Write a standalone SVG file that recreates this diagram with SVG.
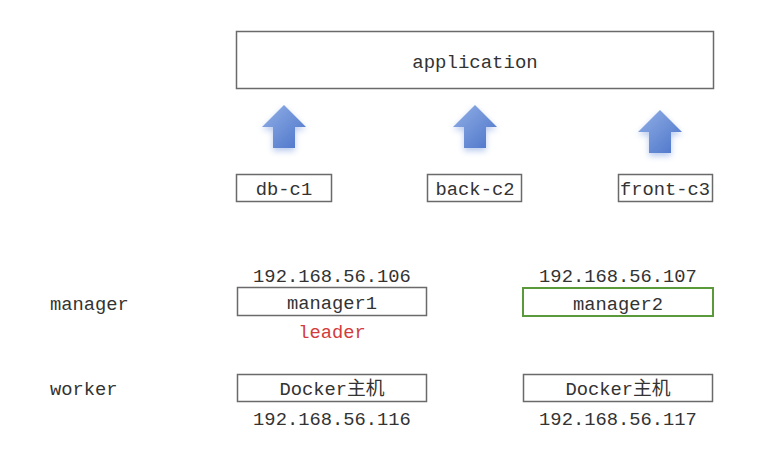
<svg xmlns="http://www.w3.org/2000/svg" width="769" height="458" viewBox="0 0 769 458">
<defs>
<style>
text{font-family:"Liberation Mono","Noto Sans CJK SC",monospace;font-size:18.8px;fill:#333;text-anchor:middle}
.lbl{text-anchor:start}
.box{fill:#fff;stroke:#6a6a6a;stroke-width:1.5}
.arrow{fill:url(#ag)}
.glow{fill:#7f9fe0;opacity:.55;filter:url(#blur)}
</style>
<linearGradient id="ag" x1="0" y1="0" x2="1" y2="1">
<stop offset="0" stop-color="#93b0e6"/>
<stop offset="1" stop-color="#4a73c9"/>
</linearGradient>
<filter id="blur" x="-50%" y="-50%" width="200%" height="200%"><feGaussianBlur stdDeviation="3"/></filter>
<path id="arr" d="M0,0 L22,22 L11,22 L11,43 L-11,43 L-11,22 L-22,22 Z"/>
</defs>
<g id="application">
<rect class="box" x="236.5" y="31.5" width="477" height="57"/>
<text x="475" y="68" style="font-size:19px">application</text>
</g>
<g id="connectors">
<use href="#arr" class="glow" transform="translate(284,108)"/>
<use href="#arr" class="arrow" transform="translate(284,105)"/>
<use href="#arr" class="glow" transform="translate(475,108)"/>
<use href="#arr" class="arrow" transform="translate(475,105)"/>
<use href="#arr" class="glow" transform="translate(660,113)"/>
<use href="#arr" class="arrow" transform="translate(660,110)"/>
</g>
<g id="db-c1">
<rect class="box" x="236.5" y="174.5" width="95" height="27"/>
<text x="284" y="195">db-c1</text>
</g>
<g id="back-c2">
<rect class="box" x="427.5" y="174.5" width="94" height="27"/>
<text x="475" y="195">back-c2</text>
</g>
<g id="front-c3">
<rect class="box" x="618.5" y="174.5" width="94" height="27"/>
<text x="665" y="195">front-c3</text>
</g>
<g id="manager-label"><text class="lbl" x="50" y="310">manager</text></g>
<g id="worker-label"><text class="lbl" x="50" y="395">worker</text></g>
<g id="manager1">
<text x="332" y="282">192.168.56.106</text>
<rect class="box" x="237.5" y="287.5" width="189" height="28"/>
<text x="332" y="309">manager1</text>
<text x="332" y="338" style="fill:#d23c3c">leader</text>
</g>
<g id="manager2">
<text x="618" y="282">192.168.56.107</text>
<rect x="523" y="288" width="190" height="28" fill="#fff" stroke="#5a9a3a" stroke-width="2"/>
<text x="618" y="310">manager2</text>
</g>
<g id="docker1">
<rect class="box" x="237.5" y="374.5" width="189" height="27"/>
<text x="332" y="395">Docker主机</text>
<text x="332" y="425">192.168.56.116</text>
</g>
<g id="docker2">
<rect class="box" x="523.5" y="374.5" width="189" height="27"/>
<text x="618" y="395">Docker主机</text>
<text x="618" y="425">192.168.56.117</text>
</g>
</svg>
